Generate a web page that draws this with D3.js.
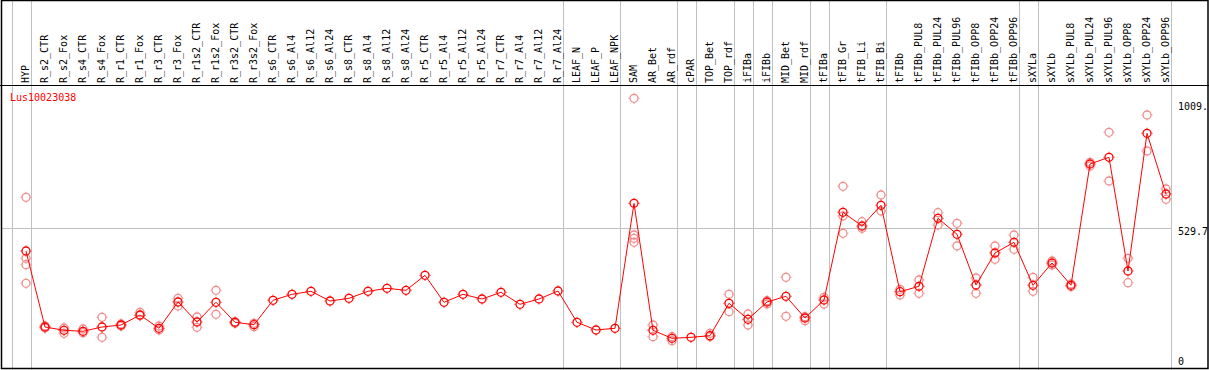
<!DOCTYPE html>
<html>
<head>
<meta charset="utf-8">
<script src="https://cdn.jsdelivr.net/npm/d3@7"></script>
<style>
  body { margin: 0; background: #fff; }
  text { font-family: 'DejaVu Sans Mono', monospace; font-size: 10px; }
</style>
</head>
<body>
<svg id="chart" width="1209" height="370"></svg>
<script>
const geneName = 'Lus10023038'
const categories = ['HYP', 'R_s2_CTR', 'R_s2_Fox', 'R_s4_CTR', 'R_s4_Fox', 'R_r1_CTR', 'R_r1_Fox', 'R_r3_CTR', 'R_r3_Fox',
  'R_r1s2_CTR', 'R_r1s2_Fox', 'R_r3s2_CTR', 'R_r3s2_Fox', 'R_s6_CTR', 'R_s6_Al4', 'R_s6_Al12', 'R_s6_Al24',
  'R_s8_CTR', 'R_s8_Al4', 'R_s8_Al12', 'R_s8_Al24', 'R_r5_CTR', 'R_r5_Al4', 'R_r5_Al12', 'R_r5_Al24',
  'R_r7_CTR', 'R_r7_Al4', 'R_r7_Al12', 'R_r7_Al24', 'LEAF_N', 'LEAF_P', 'LEAF_NPK', 'SAM', 'AR_Bet', 'AR_rdf',
  'cPAR', 'TOP_Bet', 'TOP_rdf', 'iFIBa', 'iFIBb', 'MID_Bet', 'MID_rdf', 'tFIBa', 'tFIB_Gr', 'tFIB_Li', 'tFIB_Bi',
  'tFIBb', 'tFIBb_PUL8', 'tFIBb_PUL24', 'tFIBb_PUL96', 'tFIBb_OPP8', 'tFIBb_OPP24', 'tFIBb_OPP96',
  'sXYLa', 'sXYLb', 'sXYLb_PUL8', 'sXYLb_PUL24', 'sXYLb_PUL96', 'sXYLb_OPP8', 'sXYLb_OPP24', 'sXYLb_OPP96']
// mean expression per sample
const means = [444.5, 163.0, 150.8, 147.1, 163.0, 170.4, 207.4, 158.2, 255.6,
  181.5, 254.5, 180.4, 171.5, 261.9, 284.1, 295.2, 259.3,
  269.3, 295.2, 306.3, 298.9, 354.5, 254.5, 284.1, 266.7,
  291.5, 247.1, 266.7, 296.3, 180.4, 151.9, 158.2, 621.2, 150.8, 121.1,
  124.8, 130.8, 250.8, 191.5, 255.6, 276.7, 196.3, 263.0, 587.9, 537.1, 613.8,
  293.7, 313.7, 565.6, 506.4, 318.6, 437.1, 476.7,
  317.5, 400.1, 317.5, 766.8, 791.6, 370.4, 880.5, 655.6]
// individual replicates per sample
const replicates = [[643.4, 417.5, 393.8, 324.9], [166.7, 159.3], [159.3, 139.6], [155.6, 141.9], [198.9, 124.8],
  [174.1, 166.7], [217.4, 204.8], [166.7, 151.9], [269.3, 240.8],
  [200.0, 161.9], [298.9, 210.0], [182.6, 176.7], [176.7, 164.1], [], [], [], [],
  [], [], [], [], [], [], [], [],
  [], [], [], [], [], [], [], [1010.1, 503.8, 491.5, 476.7], [170.4, 127.1], [127.1, 112.2],
  [], [139.6, 127.1], [284.1, 219.7], [211.1, 170.4], [260.4, 248.2], [347.1, 202.6], [201.1, 186.3],
  [273.0, 248.2], [684.2, 574.2, 510.1], [553.0, 528.6], [651.9, 592.7],
  [302.6, 281.5], [337.1, 287.8], [586.4, 540.8], [547.1, 463.0], [344.5, 287.8], [463.0, 413.8], [503.8, 450.8],
  [347.1, 295.2], [407.5, 392.6], [322.3, 312.3], [773.1, 759.4], [884.2, 703.8], [417.5, 327.1], [948.3, 814.9], [674.2, 636.0]]
// a grey separator is drawn after each of these samples
const groupEnds = ['HYP', 'R_r7_Al24', 'LEAF_NPK', 'AR_rdf', 'cPAR', 'TOP_rdf', 'iFIBa', 'iFIBb', 'MID_rdf',
  'tFIBa', 'tFIB_Bi', 'tFIBb_OPP96', 'sXYLa', 'sXYLb_OPP96']
const yMax = 1059.4
const yTicks = [1009, 529.7, 0]
const yTickLabels = ['1009.', '529.7', '0']

const W = 1209
const H = 370
const headerY = 85
const svg = d3.select('#chart')

let x = d3.scalePoint().domain(categories).range([26, 1166])
let y = d3.scaleLinear().domain([0, yMax]).range([371, headerY])
const step = x.step()
const gridRight = x(categories[categories.length - 1]) + 4.5

// separators
let sepX = [x(categories[0]) - step + 4.5].concat(groupEnds.map(c => x(c) + 4.5))
svg.selectAll('line.sep')
  .data(sepX)
  .enter()
  .append('line')
  .attr('x1', d => Math.round(d) + 0.5)
  .attr('x2', d => Math.round(d) + 0.5)
  .attr('y1', 0)
  .attr('y2', H)
  .attr('stroke', '#c0c0c0')
  .attr('stroke-width', 1)

// middle gridline
svg.append('line')
  .attr('x1', 1).attr('x2', Math.round(gridRight) + 0.5)
  .attr('y1', Math.round(y(yTicks[1])) + 0.5).attr('y2', Math.round(y(yTicks[1])) + 0.5)
  .attr('stroke', '#c0c0c0')

// header line and frame
svg.append('line')
  .attr('x1', 0).attr('x2', W)
  .attr('y1', headerY + 0.5).attr('y2', headerY + 0.5)
  .attr('stroke', '#000')
svg.append('rect')
  .attr('x', 1.5).attr('y', 0.5)
  .attr('width', W - 2.5).attr('height', H - 2)
  .attr('fill', 'none')
  .attr('stroke', '#000')
  .attr('stroke-width', 1.5)

// sample labels
svg.selectAll('text.cat')
  .data(categories)
  .enter()
  .append('text')
  .attr('class', 'cat')
  .attr('transform', d => 'translate(' + (x(d) - 0.5) + ',' + (headerY - 2) + ') rotate(-90)')
  .attr('dominant-baseline', 'central')
  .attr('fill', '#000')
  .text(d => d)

// y labels on the right
svg.selectAll('text.ytick')
  .data(yTicks)
  .enter()
  .append('text')
  .attr('class', 'ytick')
  .attr('x', gridRight + 7.5)
  .attr('y', d => Math.min(Math.max(y(d), headerY + 18), H - 12))
  .attr('dominant-baseline', 'hanging')
  .attr('fill', '#000')
  .text((d, i) => yTickLabels[i])

svg.append('text')
  .attr('x', 10)
  .attr('y', 97)
  .attr('dominant-baseline', 'central')
  .attr('fill', '#ff0000')
  .text(geneName)

function marker (g, color) {
  g.append('circle').attr('r', 4).attr('fill', 'none').attr('stroke', color).attr('stroke-width', 1.3)
  g.append('path').attr('d', 'M0,-5.5V-4.5M0,4.5V5.5M-5.5,0H-4.5M4.5,0H5.5')
    .attr('stroke', color).attr('stroke-width', 1)
}

// replicate points
let reps = []
categories.forEach((c, i) => replicates[i].forEach(v => reps.push({c: c, v: v})))
svg.selectAll('g.rep')
  .data(reps)
  .enter()
  .append('g')
  .attr('class', 'rep')
  .attr('transform', d => 'translate(' + x(d.c) + ',' + y(d.v) + ')')
  .each(function () { marker(d3.select(this), '#f08c8c') })

// mean line
let line = d3.line().x((d, i) => x(categories[i])).y(d => y(d))
svg.append('path')
  .datum(means)
  .attr('d', line)
  .attr('fill', 'none')
  .attr('stroke', '#ff0000')
  .attr('stroke-width', 1)

svg.selectAll('g.mean')
  .data(means)
  .enter()
  .append('g')
  .attr('class', 'mean')
  .attr('transform', (d, i) => 'translate(' + x(categories[i]) + ',' + y(d) + ')')
  .each(function () { marker(d3.select(this), '#ff0000') })
</script>
</body>
</html>
